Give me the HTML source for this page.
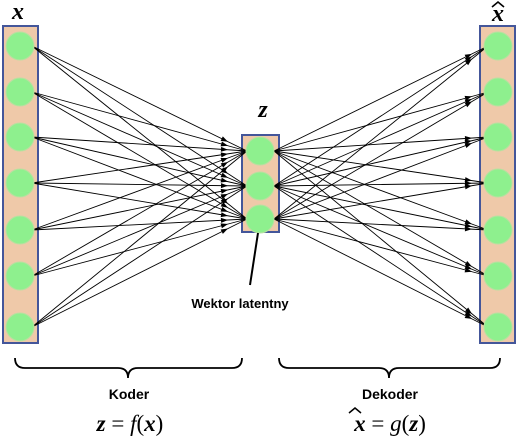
<!DOCTYPE html>
<html><head><meta charset="utf-8"><style>
html,body{margin:0;padding:0;background:#fff;}
svg{display:block;}
.s{font-family:"Liberation Sans",sans-serif;}
.m{font-family:"Liberation Serif",serif;}
</style></head><body>
<svg id="s" width="518" height="438" viewBox="0 0 518 438">
<rect x="3" y="26" width="35" height="317" fill="#efc9a9" stroke="#44569a" stroke-width="2"/>
<rect x="242" y="135" width="37" height="97" fill="#efc9a9" stroke="#44569a" stroke-width="2"/>
<rect x="480" y="26" width="35" height="317" fill="#efc9a9" stroke="#44569a" stroke-width="2"/>
<g id="edges"></g>
<g id="nodes"></g>
<text class="m" x="18" y="19" font-style="italic" font-weight="bold" font-size="24" text-anchor="middle">x</text>
<text class="m" x="263" y="117" font-style="italic" font-weight="bold" font-size="24" text-anchor="middle">z</text>
<text class="m" x="498" y="21" font-style="italic" font-weight="bold" font-size="24" text-anchor="middle">x</text>
<path d="M492 7 L498 2 L504 7" fill="none" stroke="#000" stroke-width="1.6"/>
<line x1="258" y1="233" x2="250" y2="285" stroke="#000" stroke-width="2"/>
<text class="s" x="240" y="308" font-size="13" font-weight="bold" text-anchor="middle">Wektor latentny</text>
<path d="M15 358 Q15 368 25 368 L118 368 Q128 368 128 378 Q128 368 138 368 L232 368 Q242 368 242 358" fill="none" stroke="#000" stroke-width="1.8"/>
<path d="M279 358 Q279 368 289 368 L379 368 Q389 368 389 378 Q389 368 399 368 L490 368 Q500 368 500 358" fill="none" stroke="#000" stroke-width="1.8"/>
<text class="s" x="129" y="399" font-size="14" font-weight="bold" text-anchor="middle">Koder</text>
<text class="s" x="390" y="399" font-size="14" font-weight="bold" text-anchor="middle">Dekoder</text>
<text class="m" x="130" y="431" font-size="23" text-anchor="middle"><tspan font-weight="bold" font-style="italic">z</tspan> = <tspan font-style="italic">f</tspan>(<tspan font-weight="bold" font-style="italic">x</tspan>)</text>
<text class="m" x="390" y="431" font-size="23" text-anchor="middle"><tspan font-weight="bold" font-style="italic">x</tspan> = <tspan font-style="italic">g</tspan>(<tspan font-weight="bold" font-style="italic">z</tspan>)</text>
<path d="M349 413 L355 408 L361 413" fill="none" stroke="#000" stroke-width="1.5"/>
</svg>
<script>
const inY=[46,92,137,183,230,276,327];
const midY=[151,186,219];
const NS="http://www.w3.org/2000/svg";
const E=document.getElementById('edges'),N=document.getElementById('nodes');
function line(x1,y1,x2,y2){const l=document.createElementNS(NS,'line');
l.setAttribute('x1',x1);l.setAttribute('y1',y1);l.setAttribute('x2',x2);l.setAttribute('y2',y2);
l.setAttribute('stroke','#000');l.setAttribute('stroke-width','0.9');


E.appendChild(l);}
function arrow(x1,y1,x2,y2,ax){const t=(ax-x1)/(x2-x1);const px=ax,py=y1+t*(y2-y1);
const a=Math.atan2(y2-y1,x2-x1),L=7,W=2.5;
const bx=px-L*Math.cos(a),by=py-L*Math.sin(a);
const p=document.createElementNS(NS,'polygon');
p.setAttribute('points',`${px},${py} ${bx-W*Math.sin(a)},${by+W*Math.cos(a)} ${bx+W*Math.sin(a)},${by-W*Math.cos(a)}`);
p.setAttribute('fill','#000');


E.appendChild(p);}
function circ(cx,cy){const c=document.createElementNS(NS,'circle');
c.setAttribute('cx',cx);c.setAttribute('cy',cy);c.setAttribute('r',14);c.setAttribute('fill','#8ef08e');c.setAttribute('stroke','#b8e0a0');


N.appendChild(c);}
inY.forEach(y1=>midY.forEach(y2=>{line(32,y1,247,y2);arrow(32,y1,247,y2,228);}));
midY.forEach(y1=>inY.forEach(y2=>{line(274,y1,488,y2);arrow(274,y1,488,y2,472);}));
inY.forEach(y=>{circ(20,y);circ(498,y);});
midY.forEach(y=>circ(260,y));
</script>
</body></html>
